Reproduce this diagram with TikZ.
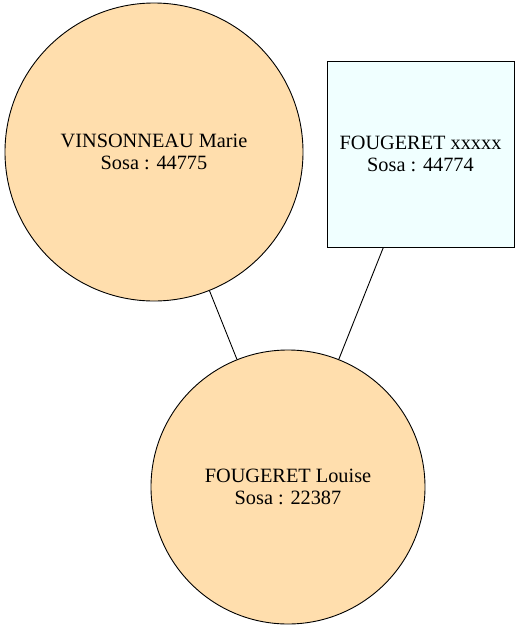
\documentclass[tikz,border=0pt]{standalone}
\usepackage{fontspec}
\setmainfont{Liberation Serif}
\definecolor{navajo}{HTML}{FFDEAD}
\definecolor{azurec}{HTML}{F0FFFF}
\begin{document}
\begin{tikzpicture}[x=1pt,y=-1pt,
  person/.style={draw=black, line width=0.9pt, align=center, inner sep=0pt,
    font=\fontsize{20.3}{22}\selectfont},
  femme/.style={person, circle, fill=navajo},
  homme/.style={person, rectangle, fill=azurec},
  link/.style={draw=black, line width=0.9pt}]
\useasboundingbox (0,0) rectangle (520,630);
\node[femme, minimum size=298pt] (marie) at (154,152) {VINSONNEAU Marie\\Sosa : 44775};
\node[homme, minimum width=187pt, minimum height=186pt] (xxxxx) at (420.5,154) {FOUGERET xxxxx\\Sosa : 44774};
\node[femme, minimum size=274pt] (louise) at (288,487) {FOUGERET Louise\\Sosa : 22387};
\draw[link] (marie) -- (louise);
\draw[link] (xxxxx) -- (louise);
\end{tikzpicture}
\end{document}
